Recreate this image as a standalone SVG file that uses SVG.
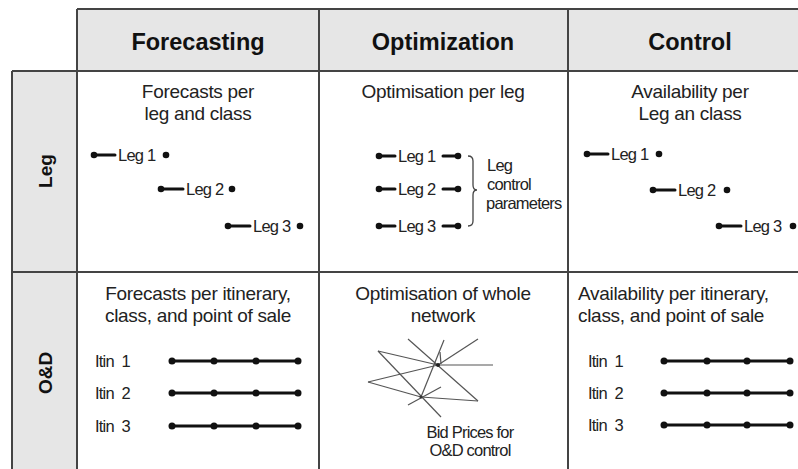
<svg xmlns="http://www.w3.org/2000/svg" width="798" height="469" viewBox="0 0 798 469">
<style>
.hd{font-family:"Liberation Sans",Arial,sans-serif;font-weight:bold;font-size:23.5px;fill:#111;text-anchor:middle}
.rl{font-family:"Liberation Sans",Arial,sans-serif;font-weight:bold;font-size:19px;fill:#111;text-anchor:middle}
.t{font-family:"Liberation Sans",Arial,sans-serif;font-size:19px;letter-spacing:-0.3px;fill:#222;text-anchor:middle}
.tl{font-family:"Liberation Sans",Arial,sans-serif;font-size:19px;letter-spacing:-0.3px;fill:#222}
.s{font-family:"Liberation Sans",Arial,sans-serif;font-size:16.5px;letter-spacing:-0.8px;fill:#222}
.grid{stroke:#444;stroke-width:2;fill:none}
.ln{stroke:#111;stroke-width:3;fill:none;stroke-linecap:round}
.dot{fill:#111}
.net{stroke:#555;stroke-width:1.2;fill:none}
</style>
<rect width="798" height="469" fill="#fff"/>
<g id="header-bg">
<rect x="77" y="9" width="721" height="62" fill="#e6e6e6"/>
<rect x="12" y="71" width="65" height="398" fill="#e6e6e6"/>
</g>
<g id="grid" class="grid">
<line x1="77" y1="9" x2="798" y2="9"/>
<line x1="12" y1="71" x2="798" y2="71"/>
<line x1="12" y1="272" x2="798" y2="272"/>
<line x1="77" y1="9" x2="77" y2="469"/>
<line x1="12" y1="71" x2="12" y2="469"/>
<line x1="319" y1="9" x2="319" y2="469"/>
<line x1="568" y1="9" x2="568" y2="469"/>
</g>
<g id="col-forecasting"><text class="hd" x="198" y="50">Forecasting</text></g>
<g id="col-optimization"><text class="hd" x="443" y="50">Optimization</text></g>
<g id="col-control"><text class="hd" x="690" y="50">Control</text></g>
<g id="row-leg"><text class="rl" transform="translate(52,171) rotate(-90)">Leg</text></g>
<g id="row-od"><text class="rl" transform="translate(52,373) rotate(-90)">O&amp;D</text></g>

<g id="leg-forecasting">
<text class="t" x="198" y="98">Forecasts per</text>
<text class="t" x="198" y="120">leg and class</text>
<line class="ln" x1="94" y1="155" x2="115" y2="155"/><circle class="dot" cx="94" cy="155" r="3.3"/>
<text class="s" x="118" y="161">Leg 1</text><circle class="dot" cx="166" cy="155" r="3.3"/>
<line class="ln" x1="161" y1="189" x2="183" y2="189"/><circle class="dot" cx="161" cy="189" r="3.3"/>
<text class="s" x="186" y="195">Leg 2</text><circle class="dot" cx="232" cy="189" r="3.3"/>
<line class="ln" x1="228" y1="226" x2="250" y2="226"/><circle class="dot" cx="228" cy="226" r="3.3"/>
<text class="s" x="253" y="232">Leg 3</text><circle class="dot" cx="300" cy="226" r="3.3"/>
</g>

<g id="leg-optimization">
<text class="t" x="443" y="98">Optimisation per leg</text>
<line class="ln" x1="379" y1="156" x2="395" y2="156"/><circle class="dot" cx="379" cy="156" r="3.3"/>
<text class="s" x="398" y="162">Leg 1</text>
<line class="ln" x1="443" y1="156" x2="458" y2="156"/><circle class="dot" cx="458" cy="156" r="3.3"/>
<line class="ln" x1="379" y1="189" x2="395" y2="189"/><circle class="dot" cx="379" cy="189" r="3.3"/>
<text class="s" x="398" y="195">Leg 2</text>
<line class="ln" x1="443" y1="189" x2="458" y2="189"/><circle class="dot" cx="458" cy="189" r="3.3"/>
<line class="ln" x1="379" y1="226" x2="395" y2="226"/><circle class="dot" cx="379" cy="226" r="3.3"/>
<text class="s" x="398" y="232">Leg 3</text>
<line class="ln" x1="443" y1="226" x2="458" y2="226"/><circle class="dot" cx="458" cy="226" r="3.3"/>
<path d="M468,156 Q473,156 473,161 L473,185 Q473,190 477,190 Q473,190 473,195 L473,221 Q473,226 468,226" fill="none" stroke="#444" stroke-width="1.3"/>
<text class="s" x="487" y="171">Leg</text>
<text class="s" x="487" y="190">control</text>
<text class="s" x="486" y="209">parameters</text>
</g>

<g id="leg-control">
<text class="t" x="690" y="98">Availability per</text>
<text class="t" x="690" y="120">Leg an class</text>
<line class="ln" x1="587" y1="154" x2="608" y2="154"/><circle class="dot" cx="587" cy="154" r="3.3"/>
<text class="s" x="611" y="160">Leg 1</text><circle class="dot" cx="659" cy="154" r="3.3"/>
<line class="ln" x1="653" y1="190" x2="675" y2="190"/><circle class="dot" cx="653" cy="190" r="3.3"/>
<text class="s" x="678" y="196">Leg 2</text><circle class="dot" cx="727" cy="190" r="3.3"/>
<line class="ln" x1="719" y1="226" x2="741" y2="226"/><circle class="dot" cx="719" cy="226" r="3.3"/>
<text class="s" x="744" y="232">Leg 3</text><circle class="dot" cx="793" cy="226" r="3.3"/>
</g>

<g id="od-forecasting">
<text class="t" x="198" y="300">Forecasts per itinerary,</text>
<text class="t" x="198" y="322">class, and point of sale</text>
<text class="s" x="95" y="367" xml:space="preserve">Itin  1</text>
<text class="s" x="95" y="399" xml:space="preserve">Itin  2</text>
<text class="s" x="95" y="432" xml:space="preserve">Itin  3</text>
<line class="ln" x1="172" y1="361" x2="298" y2="361"/>
<line class="ln" x1="172" y1="393" x2="298" y2="393"/>
<line class="ln" x1="172" y1="426" x2="298" y2="426"/>
<g class="dot">
<circle cx="172" cy="361" r="3.5"/><circle cx="214" cy="361" r="3.5"/><circle cx="256" cy="361" r="3.5"/><circle cx="298" cy="361" r="3.5"/>
<circle cx="172" cy="393" r="3.5"/><circle cx="214" cy="393" r="3.5"/><circle cx="256" cy="393" r="3.5"/><circle cx="298" cy="393" r="3.5"/>
<circle cx="172" cy="426" r="3.5"/><circle cx="214" cy="426" r="3.5"/><circle cx="256" cy="426" r="3.5"/><circle cx="298" cy="426" r="3.5"/>
</g>
</g>

<g id="od-optimization">
<text class="t" x="443" y="300">Optimisation of whole</text>
<text class="t" x="443" y="322">network</text>
<g class="net">
<line x1="408" y1="339" x2="478" y2="401"/>
<line x1="444" y1="340" x2="421" y2="397"/>
<line x1="478" y1="339" x2="438" y2="365"/>
<line x1="438" y1="365" x2="493" y2="365"/>
<line x1="378" y1="351" x2="438" y2="365"/>
<line x1="378" y1="351" x2="441" y2="417"/>
<line x1="368" y1="382" x2="438" y2="365"/>
<line x1="368" y1="382" x2="421" y2="397"/>
<line x1="421" y1="397" x2="478" y2="401"/>
<line x1="408" y1="405" x2="441" y2="387"/>
<line x1="440" y1="352" x2="441" y2="364"/>
</g>
<circle cx="438" cy="365" r="2" fill="#222"/>
<circle cx="421" cy="397" r="1.5" fill="#333"/>
<text class="s" x="470" y="438" text-anchor="middle">Bid Prices for</text>
<text class="s" x="470" y="456" text-anchor="middle">O&amp;D control</text>
</g>

<g id="od-control">
<text class="tl" x="578" y="300">Availability per itinerary,</text>
<text class="tl" x="578" y="322">class, and point of sale</text>
<text class="s" x="588" y="367" xml:space="preserve">Itin  1</text>
<text class="s" x="588" y="399" xml:space="preserve">Itin  2</text>
<text class="s" x="588" y="431" xml:space="preserve">Itin  3</text>
<line class="ln" x1="664" y1="361" x2="790" y2="361"/>
<line class="ln" x1="664" y1="393" x2="790" y2="393"/>
<line class="ln" x1="664" y1="425" x2="790" y2="425"/>
<g class="dot">
<circle cx="664" cy="361" r="3.5"/><circle cx="707" cy="361" r="3.5"/><circle cx="747" cy="361" r="3.5"/><circle cx="790" cy="361" r="3.5"/>
<circle cx="664" cy="393" r="3.5"/><circle cx="707" cy="393" r="3.5"/><circle cx="747" cy="393" r="3.5"/><circle cx="790" cy="393" r="3.5"/>
<circle cx="664" cy="425" r="3.5"/><circle cx="707" cy="425" r="3.5"/><circle cx="747" cy="425" r="3.5"/><circle cx="790" cy="425" r="3.5"/>
</g>
</g>
</svg>
